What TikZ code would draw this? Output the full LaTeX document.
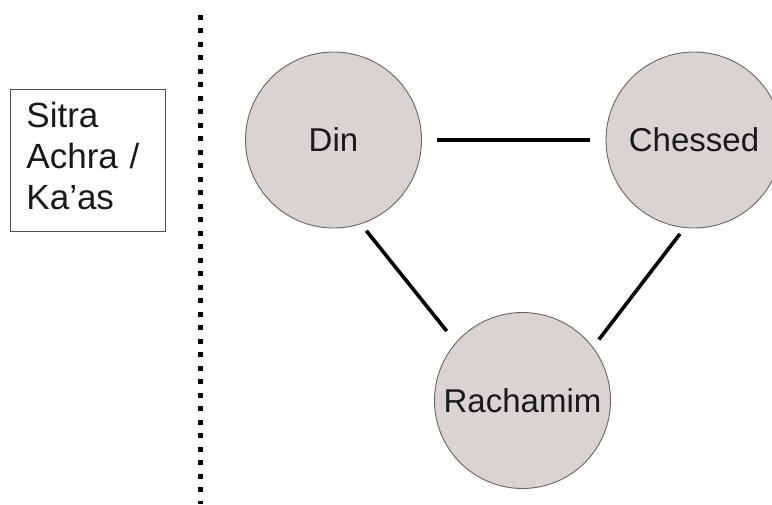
\documentclass[tikz,border=0pt]{standalone}
\usepackage{fontspec}
\setmainfont{Liberation Sans}
\usepackage{tikz}
\usetikzlibrary{positioning}
\definecolor{sefirafill}{RGB}{217,212,210}
\definecolor{sefiraline}{RGB}{105,99,97}
\definecolor{inktext}{RGB}{25,25,25}

\begin{document}
\begin{tikzpicture}[x=1pt,y=-1pt,
	sefira/.style={circle,draw=sefiraline,fill=sefirafill,line width=0.9pt,minimum size=176pt,inner sep=0pt,outer sep=0pt,text=inktext,font=\fontsize{33}{40}\selectfont},
	link/.style={line width=3.6pt,black},
	sidebox/.style={draw=black!70,line width=0.9pt,text=inktext,font=\fontsize{35}{41}\selectfont,align=left,text width=123pt,inner xsep=16pt,inner ysep=0pt,minimum width=154pt,minimum height=142pt,text depth=92pt},
	sepline/.style={line width=5.5pt,black,dash pattern=on 5pt off 8.5pt}]
	\useasboundingbox (0,0) rectangle (772,504);
	\clip (0,0) rectangle (772,504);
	% left box and the dotted divider
	\node[sidebox,anchor=north west] (sitra) at (10,89) {Sitra\\Achra /\\Ka’as};
	\coordinate (septop) at (200.7,14.5);
	\coordinate (sepbot) at (200.7,504);
	\draw[sepline] (septop) -- (sepbot);
	% the three circles
	\node[sefira] (din) at (333.5,140) {Din};
	\node[sefira] (chessed) at (694,140) {Chessed};
	\node[sefira] (rachamim) at (522.5,400.5) {Rachamim};
	\draw[link,shorten <=15.5pt,shorten >=16pt] (din.east) -- (chessed.west);
	\draw[link,shorten <=9pt,shorten >=15pt] (din.-72) -- (rachamim.139);
	\draw[link,shorten <=8pt,shorten >=10pt] (chessed.-96) -- (rachamim.37);
\end{tikzpicture}
\end{document}
